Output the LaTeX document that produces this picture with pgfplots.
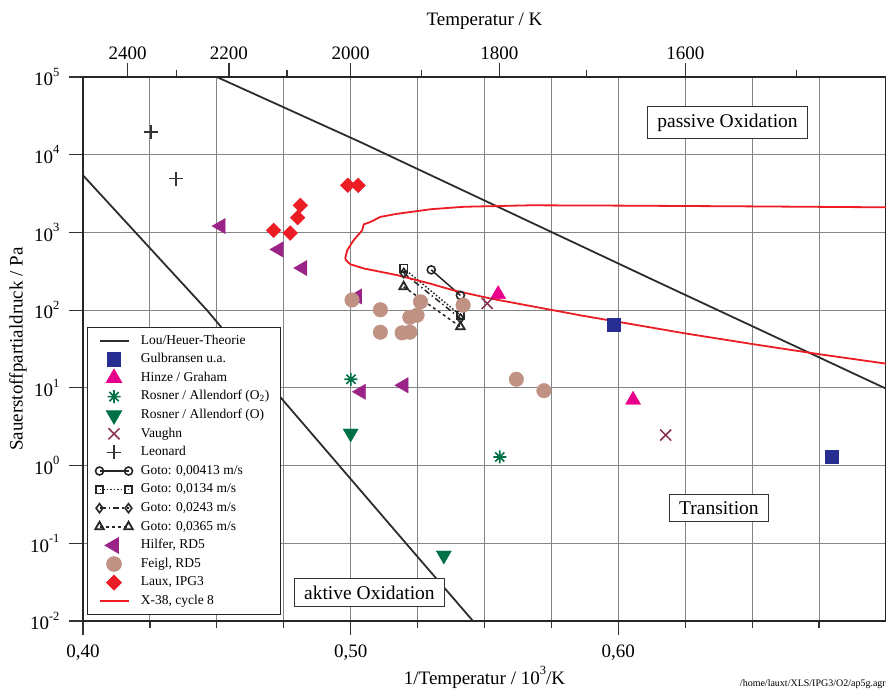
\documentclass[border=0pt]{standalone}
\usepackage{fontspec}
\setmainfont{Liberation Serif}
\usepackage{pgfplots}
\pgfplotsset{compat=1.18}

\definecolor{louc}{RGB}{45,45,45}
\definecolor{gulb}{RGB}{40,45,145}
\definecolor{hinze}{RGB}{232,0,140}
\definecolor{rosner}{RGB}{0,112,70}
\definecolor{vaughn}{RGB}{135,45,80}
\definecolor{hilfer}{RGB}{155,35,135}
\definecolor{feigl}{RGB}{192,146,132}
\definecolor{laux}{RGB}{236,28,36}

\pgfdeclareplotmark{ast8}{%
  \pgfpathmoveto{\pgfqpoint{0pt}{\pgfplotmarksize}}\pgfpathlineto{\pgfqpoint{0pt}{-\pgfplotmarksize}}%
  \pgfpathmoveto{\pgfqpoint{\pgfplotmarksize}{0pt}}\pgfpathlineto{\pgfqpoint{-\pgfplotmarksize}{0pt}}%
  \pgfpathmoveto{\pgfqpoint{.707\pgfplotmarksize}{.707\pgfplotmarksize}}\pgfpathlineto{\pgfqpoint{-.707\pgfplotmarksize}{-.707\pgfplotmarksize}}%
  \pgfpathmoveto{\pgfqpoint{-.707\pgfplotmarksize}{.707\pgfplotmarksize}}\pgfpathlineto{\pgfqpoint{.707\pgfplotmarksize}{-.707\pgfplotmarksize}}%
  \pgfusepathqstroke}

\newcommand{\tsup}[1]{\raisebox{0.5em}{\fontsize{12.5}{12.5}\selectfont #1}}
\newcommand{\tickfont}{\fontsize{19}{22}\selectfont}

\pgfplotsset{
  legmark/.style={legend image code/.code={\draw[mark repeat=2,mark phase=2,##1] plot coordinates {(0pt,0pt) (14.5pt,0pt) (29pt,0pt)};}},
  legline/.style={legend image code/.code={\draw[##1] (0pt,0pt) -- (29pt,0pt);}},
  legboth/.style={legend image code/.code={\draw[##1] plot coordinates {(0pt,0pt) (29pt,0pt)};}},
}

\begin{document}
\begin{tikzpicture}
\begin{axis}[
  scale only axis, width=803pt, height=544pt,
  xmin=0.40, xmax=0.70, ymode=log, ymin=1e-2, ymax=1e5,
  xtick={0.4,0.5,0.6}, xticklabels={{0,40},{0,50},{0,60}},
  minor xtick={0.425,0.45,0.475,0.525,0.55,0.575,0.625,0.65,0.675},
  ytick={1e-2,1e-1,1,10,100,1000,1e4,1e5},
  yticklabels={10\tsup{-2},10\tsup{-1},10\tsup{0},10\tsup{1},10\tsup{2},10\tsup{3},10\tsup{4},10\tsup{5}},
  yminorticks=false,
  xtick pos=bottom, ytick pos=left, tick align=outside,
  major tick length=14pt, minor tick length=7pt,
  every tick/.style={line width=1.2pt, black!80},
  xmajorgrids, xminorgrids, ymajorgrids,
  major grid style={line width=1.1pt, black!48},
  minor grid style={line width=1.1pt, black!48},
  axis line style={line width=1.3pt, black!85},
  tick label style={font=\tickfont},
  xticklabel style={yshift=-6pt},
  yticklabel style={xshift=-6pt},
  xlabel={1/Temperatur / 10\tsup{3}/K},
  ylabel={Sauerstoffpartialdruck / Pa},
  label style={font=\tickfont},
  xlabel style={at={(axis description cs:0.5,-0.1158)}, anchor=base},
  ylabel style={at={(axis description cs:-0.081,0.5)}, anchor=center},
  legend style={at={(axis description cs:0.0046,0.011)}, anchor=south west,
    draw=black!85, line width=1pt, fill=white,
    font=\fontsize{13.5}{15}\selectfont,
    inner xsep=8pt, inner ysep=4pt, column sep=5pt, row sep=0pt,
    nodes={inner xsep=3pt, inner ysep=3pt, text height=9.5pt, text depth=3.1pt},
    cells={anchor=west}},
  legend cell align=left,
]
% Lou/Heuer theory
\addplot[louc, line width=1.8pt, legline] coordinates {(0.45,100000) (0.5036,14555) (0.6134,241.5) (0.70,9.77)};
\addlegendentry{Lou/Heuer-Theorie}
\addplot[louc, line width=1.8pt, forget plot] coordinates {(0.40,5433) (0.4463,100) (0.4737,7.62) (0.5211,0.0959) (0.5457,0.01)};
% Gulbransen
\addplot[only marks, mark=square*, mark size=6.6pt, color=gulb, legmark] coordinates {(0.5982,65) (0.6796,1.30)};
\addlegendentry{Gulbransen u.a.}
% Hinze
\addplot[only marks, mark=triangle*, mark size=8.7pt, color=hinze, legmark] coordinates {(0.5551,160) (0.6055,7.0)};
\addlegendentry{Hinze / Graham}
% Rosner O2
\addplot[only marks, mark=ast8, mark size=6.5pt, line width=1.6pt, color=rosner, legmark] coordinates {(0.5001,12.9) (0.5557,1.29)};
\addlegendentry{Rosner / Allendorf (O\textsubscript{2})}
% Rosner O
\addplot[only marks, mark=triangle*, mark size=8.7pt, mark options={rotate=180}, color=rosner, legmark] coordinates {(0.50,2.6) (0.5348,0.070)};
\addlegendentry{Rosner / Allendorf (O)}
% Vaughn
\addplot[only marks, mark=x, mark size=7.8pt, line width=1.5pt, color=vaughn, legmark] coordinates {(0.5510,122) (0.6177,2.47)};
\addlegendentry{Vaughn}
% Leonard
\addplot[only marks, mark=+, mark size=7pt, line width=1.6pt, color=black!80, legmark] coordinates {(0.4254,19600) (0.4347,4920)};
\addlegendentry{Leonard}
% Goto
\addplot[black!85, line width=1.5pt, mark=o, mark size=4pt, mark options={fill=white, solid, line width=1.6pt}, legboth] coordinates {(0.5301,330) (0.5410,155)};
\addlegendentry{Goto: 0,00413 m/s}
\addplot[black!85, line width=1.5pt, dotted, mark=square, mark size=3.8pt, mark options={fill=white, solid, line width=1.8pt}, legboth] coordinates {(0.5198,345) (0.5410,86)};
\addlegendentry{Goto: 0,0134 m/s}
\addplot[black!85, line width=1.5pt, dash pattern=on 6pt off 3pt on 1.5pt off 3pt, mark=diamond, mark size=4.5pt, mark options={fill=white, solid, line width=1.6pt}, legboth] coordinates {(0.5198,300) (0.5410,78)};
\addlegendentry{Goto: 0,0243 m/s}
\addplot[black!85, line width=1.5pt, dashed, mark=triangle, mark size=5pt, mark options={fill=white, solid, line width=1.8pt}, legboth] coordinates {(0.5198,200) (0.5410,61)};
\addlegendentry{Goto: 0,0365 m/s}
% Hilfer
\addplot[only marks, mark=triangle*, mark size=8.8pt, mark options={rotate=90}, color=hilfer, legmark] coordinates {(0.4515,1208) (0.4731,604) (0.4820,348) (0.5025,150) (0.5039,8.9) (0.5198,10.8)};
\addlegendentry{Hilfer, RD5}
% Feigl
\addplot[only marks, mark=*, mark size=7.3pt, color=feigl, legmark] coordinates {(0.5005,135) (0.5111,101) (0.5111,52) (0.5192,51) (0.5221,52) (0.5221,81) (0.5248,86) (0.5261,128) (0.5420,116) (0.5619,12.9) (0.5722,9.2)};
\addlegendentry{Feigl, RD5}
% Laux
\addplot[only marks, mark=square*, mark size=5.2pt, mark options={rotate=45}, color=laux, legmark] coordinates {(0.4989,4040) (0.5028,4040) (0.4812,2230) (0.4802,1550) (0.4712,1063) (0.4774,982)};
\addlegendentry{Laux, IPG3}
% X-38
\addplot[laux, line width=1.8pt, legline] coordinates {
 (0.70,20.5) (0.6757,26.9) (0.6508,36.3) (0.6256,49.8) (0.5859,85.7) (0.5523,141)
 (0.5384,180) (0.5298,219) (0.5174,282) (0.5049,344) (0.4999,389) (0.4982,440)
 (0.4980,470) (0.4987,589) (0.5011,794) (0.5043,1064) (0.5049,1271) (0.5074,1365)
 (0.5111,1585) (0.5174,1738) (0.5300,1990) (0.5423,2138) (0.5672,2234) (0.60,2213)
 (0.65,2163) (0.70,2104)};
\addlegendentry{X-38, cycle 8}

\node[draw=black!80, line width=1pt, fill=white, font=\fontsize{19.5}{22}\selectfont, inner xsep=10pt, inner ysep=7pt] at (axis cs:0.6408,26000) {passive Oxidation};
\node[draw=black!80, line width=1pt, fill=white, font=\fontsize{19.5}{22}\selectfont, inner xsep=10pt, inner ysep=7pt] at (axis cs:0.6376,0.281) {Transition};
\node[draw=black!80, line width=1pt, fill=white, font=\fontsize{19.5}{22}\selectfont, inner xsep=10pt, inner ysep=7pt] at (axis cs:0.5070,0.0233) {aktive Oxidation};
\end{axis}
\begin{axis}[
  scale only axis, width=803pt, height=544pt,
  xmin=0.40, xmax=0.70, ymin=0, ymax=1,
  axis x line*=top, axis y line=none,
  xtick={0.416667,0.454545,0.5,0.555556,0.625},
  xticklabels={2400,2200,2000,1800,1600},
  minor xtick={0.434783,0.476190,0.526316,0.588235,0.666667},
  tick align=outside, major tick length=14pt, minor tick length=7pt,
  every tick/.style={line width=1.2pt, black!80},
  axis line style={line width=1.3pt, black!85},
  tick label style={font=\tickfont},
  xlabel={Temperatur / K},
  label style={font=\tickfont},
  xlabel style={at={(axis description cs:0.5,1.0938)}, anchor=base},
]
\end{axis}
\draw[line width=2.4pt, black!85] (0pt,0pt) -- (0pt,544pt);
\node[anchor=base east, font=\fontsize{10}{11}\selectfont, inner sep=0pt] at (803pt,-65pt) {/home/lauxt/XLS/IPG3/O2/ap5g.agr};
\pgfresetboundingbox
\path[use as bounding box] (-83pt,-70pt) rectangle (803pt,621pt);
\end{tikzpicture}
\end{document}
